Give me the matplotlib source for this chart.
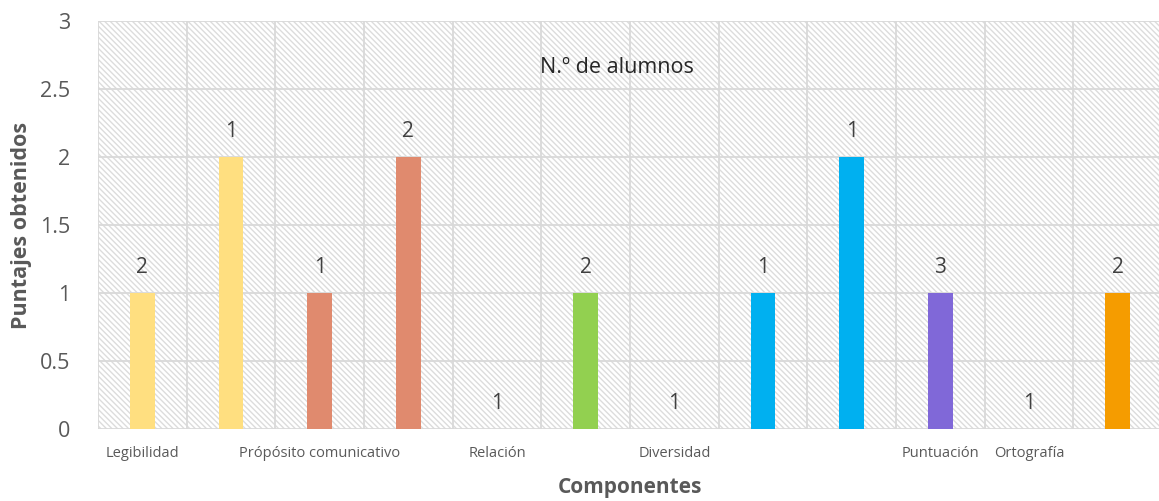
import matplotlib
matplotlib.use("Agg")
import matplotlib.pyplot as plt
from matplotlib.patches import Rectangle

plt.rcParams['font.family'] = ['Open Sans', 'DejaVu Sans']
plt.rcParams['hatch.color'] = '#DCDCDC'
plt.rcParams['hatch.linewidth'] = 1.0

tick_labels = ["Legibilidad", "", "Própósito comunicativo", "", "Relación", "",
               "Diversidad", "", "", "Puntuación", "Ortografía", ""]
values = [1, 2, 1, 2, 0, 1, 0, 1, 2, 1, 0, 1]
count_labels = ["2", "1", "1", "2", "1", "2", "1", "1", "1", "3", "1", "2"]
colors = ["#FFDF80", "#FFDF80", "#E08A6E", "#E08A6E", "#E08A6E", "#92D050",
          "#92D050", "#00B0F0", "#00B0F0", "#8068D8", "#8068D8", "#F59C00"]

W, H = 1159, 501
fig = plt.figure(figsize=(W / 100, H / 100), dpi=100)
ax = fig.add_axes([98 / W, 1 - 429 / H, (1162 - 98) / W, (429 - 21) / H])

x = list(range(1, len(values) + 1))
ax.set_xlim(0.5, len(values) + 0.5)
ax.set_ylim(0, 3)

bg = Rectangle((0, 0), 1, 1, transform=ax.transAxes, facecolor='white',
               edgecolor='#DCDCDC', hatch='\\' * 6, linewidth=0, zorder=0)
ax.add_patch(bg)
ax.set_facecolor('white')

ax.bar(x, values, width=0.28, color=colors, zorder=3)
for xi, v, lab in zip(x, values, count_labels):
    ax.text(xi, v + 0.11, lab, ha='center', va='bottom', fontsize=15,
            color='#404040', zorder=4)

# gridlines
for b in range(len(values) + 1):
    ax.axvline(b + 0.5, color='#D9D9D9', lw=1.3, zorder=1)
for yv in [0.5, 1, 1.5, 2, 2.5, 3]:
    ax.axhline(yv, color='#D9D9D9', lw=1.3, zorder=1)
ax.axhline(0, color='#D9D9D9', lw=2, zorder=2)

ax.set_yticks([0, 0.5, 1, 1.5, 2, 2.5, 3])
ax.set_yticklabels(["0", "0.5", "1", "1.5", "2", "2.5", "3"])
ax.set_xticks(x)
ax.set_xticklabels(tick_labels, fontsize=10.5, color='#595959')
ax.tick_params(axis='y', labelsize=15.5, labelcolor='#595959', length=0, pad=20)
ax.tick_params(axis='x', length=0, pad=12)
for s in ax.spines.values():
    s.set_visible(False)

ax.text(0.488, 0.885, "N.º de alumnos", transform=ax.transAxes, ha='center',
        va='center', fontsize=15.5, color='#262626', zorder=5)

ax.set_ylabel("Puntajes obtenidos", fontsize=15.5, fontweight='bold',
              color='#595959', va='center')
ax.yaxis.set_label_coords((21 - 98) / 1064, 0.5)
fig.text(630 / W, 1 - 488 / H, "Componentes", ha='center', va='center',
         fontsize=15, fontweight='bold', color='#595959')

fig.savefig("out.png", dpi=100)
